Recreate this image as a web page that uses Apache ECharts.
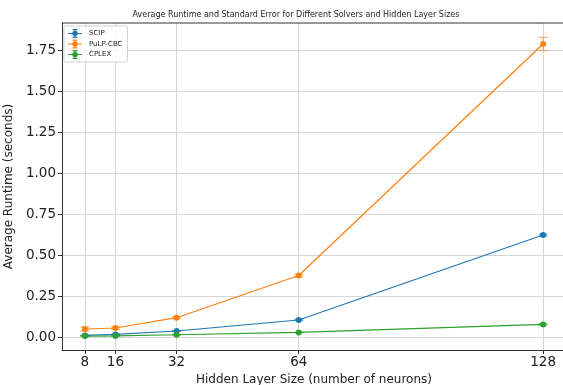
<!DOCTYPE html>
<html>
<head>
<meta charset="utf-8">
<script src="https://cdn.jsdelivr.net/npm/echarts@6/dist/echarts.min.js"></script>
<style>
  html, body { margin: 0; padding: 0; background: #fff; }
  #chart { width: 563px; height: 385px; }
</style>
</head>
<body>
<div id="chart"></div>
<script>
// Hidden layer sizes (x positions) and tick labels
const layerSizes = [8, 16, 32, 64, 128];
const yTicks = [0, 0.25, 0.5, 0.75, 1.0, 1.25, 1.5, 1.75];

// Average runtime (seconds) per solver
const scipMean = [0.010, 0.016, 0.037, 0.104, 0.622];
const pulpMean = [0.049, 0.055, 0.118, 0.375, 1.787];
const cplexMean = [0.006, 0.007, 0.014, 0.028, 0.077];

// Standard error per solver
const scipErr = [0.002, 0.002, 0.003, 0.004, 0.006];
const pulpErr = [0.012, 0.008, 0.006, 0.008, 0.040];
const cplexErr = [0.001, 0.001, 0.002, 0.002, 0.004];

const solverNames = ['SCIP', 'PuLP-CBC', 'CPLEX'];
const colors = ['#1f77b4', '#ff7f0e', '#2ca02c'];

const FONT = 'DejaVu Sans';

// legend glyph: line, error bar with caps, and dot
const errIcon = 'path://M0 7.8H28V10.2H0Z M12.8 0H15.2V18H12.8Z M9 0H19V2.4H9Z M9 15.6H19V18H9Z M8.5 9A5.5 5.5 0 1 1 19.5 9A5.5 5.5 0 1 1 8.5 9Z';

function lineSeries(name, means, color) {
  return {
    name: name,
    type: 'line',
    data: layerSizes.map((x, i) => [x, means[i]]),
    symbol: 'circle',
    symbolSize: 6,
    itemStyle: { color: color },
    lineStyle: { color: color, width: 1.2 },
    z: 3,
    animation: false
  };
}

function errorSeries(name, means, errs, color) {
  return {
    name: name,
    type: 'custom',
    data: layerSizes.map((x, i) => [x, means[i] - errs[i], means[i] + errs[i]]),
    renderItem: function (params, api) {
      const lo = api.coord([api.value(0), api.value(1)]);
      const hi = api.coord([api.value(0), api.value(2)]);
      const cap = 4.5;
      const style = { stroke: color, lineWidth: 1.2, opacity: 0.65 };
      return {
        type: 'group',
        children: [
          { type: 'line', shape: { x1: lo[0], y1: lo[1], x2: hi[0], y2: hi[1] }, style: style },
          { type: 'line', shape: { x1: lo[0] - cap, y1: lo[1], x2: lo[0] + cap, y2: lo[1] }, style: style },
          { type: 'line', shape: { x1: hi[0] - cap, y1: hi[1], x2: hi[0] + cap, y2: hi[1] }, style: style }
        ]
      };
    },
    z: 2,
    animation: false
  };
}

const chart = echarts.init(document.getElementById('chart'), null, { renderer: 'canvas' });

chart.setOption({
  backgroundColor: '#fff',
  animation: false,
  color: colors,
  title: {
    text: 'Average Runtime and Standard Error for Different Solvers and Hidden Layer Sizes',
    left: 291,
    textAlign: 'center',
    top: 6,
    textStyle: { fontFamily: FONT, fontSize: 8, fontWeight: 'normal', color: '#222' }
  },
  legend: {
    orient: 'vertical',
    left: 64,
    top: 26,
    data: solverNames.map(n => ({ name: n, icon: errIcon })),
    itemWidth: 14,
    itemHeight: 9,
    itemGap: 1.5,
    padding: [3, 5, 3, 4],
    backgroundColor: 'rgba(255,255,255,0.8)',
    borderColor: '#d0d0d0',
    borderWidth: 1,
    borderRadius: 2,
    textStyle: { fontFamily: FONT, fontSize: 7, color: '#222', padding: [0, 0, 0, 2] }
  },
  grid: { left: 62, right: -3, top: 23, bottom: 35, containLabel: false, outerBoundsMode: 'none' },
  xAxis: {
    type: 'value',
    min: 2,
    max: 134,
    name: 'Hidden Layer Size (number of neurons)',
    nameLocation: 'middle',
    nameGap: 21,
    nameTextStyle: { fontFamily: FONT, fontSize: 12, color: '#222' },
    axisLine: { show: true, onZero: false, lineStyle: { color: '#333', width: 1 } },
    axisTick: { show: true, customValues: layerSizes, length: 4, lineStyle: { color: '#333' } },
    axisLabel: { customValues: layerSizes, fontFamily: FONT, fontSize: 13.5, color: '#222', margin: 5 },
    splitLine: { show: true, customValues: layerSizes, lineStyle: { color: '#d6d6d6', width: 1 } }
  },
  yAxis: {
    type: 'value',
    min: -0.079,
    max: 1.915,
    name: 'Average Runtime (seconds)',
    nameLocation: 'middle',
    nameGap: 39,
    nameTextStyle: { fontFamily: FONT, fontSize: 12, color: '#222' },
    axisLine: { show: true, onZero: false, lineStyle: { color: '#333', width: 1 } },
    axisTick: { show: true, customValues: yTicks, length: 4, lineStyle: { color: '#333' } },
    axisLabel: {
      customValues: yTicks,
      fontFamily: FONT, fontSize: 13.5, color: '#222', margin: 6,
      formatter: v => v.toFixed(2)
    },
    splitLine: { show: true, customValues: yTicks, lineStyle: { color: '#d6d6d6', width: 1 } }
  },
  series: [
    errorSeries('SCIP', scipMean, scipErr, colors[0]),
    errorSeries('PuLP-CBC', pulpMean, pulpErr, colors[1]),
    errorSeries('CPLEX', cplexMean, cplexErr, colors[2]),
    lineSeries('SCIP', scipMean, colors[0]),
    lineSeries('PuLP-CBC', pulpMean, colors[1]),
    lineSeries('CPLEX', cplexMean, colors[2])
  ],
  graphic: [
    // top frame edge of the plotting area
    { type: 'line', shape: { x1: 62, y1: 23, x2: 563, y2: 23 }, style: { stroke: '#333', lineWidth: 1 }, z: 10 }
  ]
});
</script>
</body>
</html>
